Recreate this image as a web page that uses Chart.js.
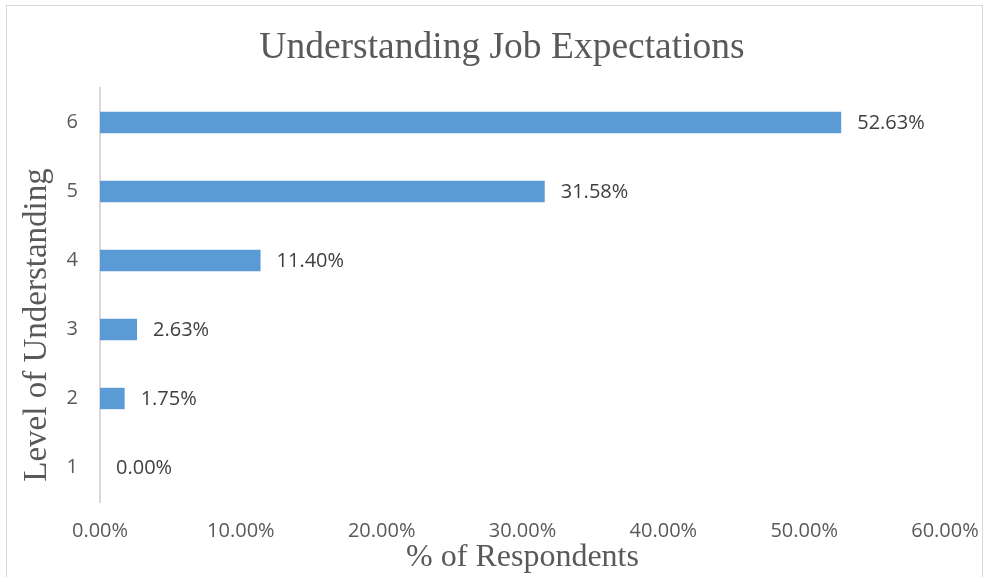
<!DOCTYPE html>
<html>
<head>
<meta charset="utf-8">
<script src="https://cdn.jsdelivr.net/npm/chart.js@4.4.1/dist/chart.umd.min.js"></script>
<style>
  html, body { margin: 0; padding: 0; background: #fff; }
  #wrap { width: 985px; height: 577px; position: relative; }
</style>
</head>
<body>
<div id="wrap"><canvas id="canvas" width="985" height="577"></canvas></div>
<script>
'use strict';

let levels = ['6', '5', '4', '3', '2', '1'];
let respondents = [52.63, 31.58, 11.40, 2.63, 1.75, 0.00];
let xTicks = [0, 10, 20, 30, 40, 50, 60];

let yTitle = 'Level of Understanding';

let canvas = document.getElementById('canvas');

// light frame like the original chart box
let framePlugin = {
  id: 'frame',
  beforeDraw(chart) {
    let ctx = chart.ctx;
    ctx.save();
    ctx.fillStyle = '#fff';
    ctx.fillRect(0, 0, chart.width, chart.height);
    ctx.strokeStyle = '#d9d9d9';
    ctx.lineWidth = 1;
    ctx.strokeRect(6.5, 5.5, 976, 600);
    ctx.restore();
  }
};

// value labels to the right of each bar + the vertical axis title
let labelPlugin = {
  id: 'barLabels',
  afterDatasetsDraw(chart) {
    let ctx = chart.ctx;
    let meta = chart.getDatasetMeta(0);
    ctx.save();
    ctx.font = '20px "Open Sans", sans-serif';
    ctx.fillStyle = '#404040';
    ctx.textBaseline = 'middle';
    meta.data.forEach((bar, i) => {
      ctx.fillText(respondents[i].toFixed(2) + '%', bar.x + 16, bar.y + 1);
    });
    ctx.restore();

    // y title sits a bit lower than the plot centre in the original
    ctx.save();
    ctx.translate(37, 325);
    ctx.rotate(-Math.PI / 2);
    ctx.font = '33px "Liberation Serif", serif';
    ctx.fillStyle = '#595959';
    ctx.textAlign = 'center';
    ctx.textBaseline = 'middle';
    ctx.fillText(yTitle, 0, 0);
    ctx.restore();
  }
};

new Chart(canvas, {
  type: 'bar',
  data: {
    labels: levels,
    datasets: [{
      data: respondents,
      backgroundColor: '#5b9bd5',
      borderWidth: 0,
      categoryPercentage: 1,
      barPercentage: 0.31
    }]
  },
  options: {
    indexAxis: 'y',
    responsive: false,
    animation: false,
    layout: { padding: { left: 59, right: 40, top: 0, bottom: 0 } },
    plugins: {
      legend: { display: false },
      tooltip: { enabled: false },
      title: {
        display: true,
        text: 'Understanding Job Expectations',
        color: '#595959',
        font: { family: '"Liberation Serif", serif', size: 37.5, weight: 'normal', lineHeight: 1.2 },
        padding: { top: 26, bottom: 17 }
      }
    },
    scales: {
      x: {
        min: 0,
        max: 60,
        afterBuildTicks(scale) {
          scale.ticks = xTicks.map(v => ({ value: v }));
        },
        grid: { display: false, drawTicks: false },
        border: { display: false },
        ticks: {
          color: '#595959',
          padding: 17,
          maxRotation: 0,
          font: { family: '"Open Sans", sans-serif', size: 20 },
          callback: v => v.toFixed(2) + '%'
        },
        title: {
          display: true,
          text: '% of Respondents',
          color: '#595959',
          font: { family: '"Liberation Serif", serif', size: 32, lineHeight: 1.2 },
          padding: { top: 0, bottom: 0 }
        },
        afterFit(scale) {
          scale.height = 75;
          scale.paddingLeft = 0;
          scale.paddingRight = 0;
        }
      },
      y: {
        grid: { display: false, drawTicks: false },
        border: { display: true, color: '#d9d9d9', width: 2 },
        ticks: {
          color: '#595959',
          padding: 22,
          font: { family: '"Open Sans", sans-serif', size: 20 }
        },
        afterFit(scale) {
          scale.width = 41;
        }
      }
    }
  },
  plugins: [framePlugin, labelPlugin]
});
</script>
</body>
</html>
